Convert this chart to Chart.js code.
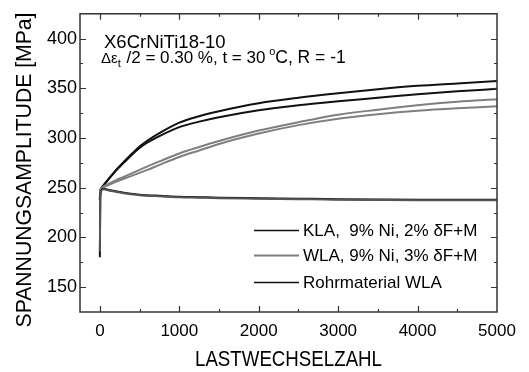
<!DOCTYPE html>
<html>
<head>
<meta charset="utf-8">
<script src="https://cdn.jsdelivr.net/npm/chart.js@4.4.0/dist/chart.umd.min.js"></script>
<style>
  html, body { margin: 0; padding: 0; background: #fff; }
  #wrap { width: 529px; height: 372px; }
</style>
</head>
<body>
<div id="wrap"><canvas id="cyclicChart"></canvas></div>
<script>
// load cycles (x) shared by every curve
const cycles = [0, 5, 10, 25, 50, 100, 200, 300, 400, 500, 600, 750, 1000, 1250, 1500, 2000, 2500, 3000, 3500, 4000, 4500, 5000];

// stress amplitude in MPa
const klaA  = [238, 246, 248.5, 250.5, 253, 258, 267.5, 276, 284, 291.5, 297.5, 305, 315.5, 322, 327, 335, 340.5, 345, 349, 352.5, 355, 357.5];
const klaB  = [238, 246, 248, 250, 252.5, 257.5, 267, 275, 283, 290, 295.5, 302, 311, 316.5, 321, 328, 333, 337, 340.5, 344, 347, 349.5];
const wlaA  = [240, 246, 248.5, 250, 251.5, 253.5, 257.5, 261, 264.5, 268, 271.5, 276.5, 284.5, 291, 297, 307.5, 316, 323.5, 328.5, 333, 336.5, 339];
const wlaB  = [240, 246, 248, 249, 250.5, 252.5, 256, 259, 262, 265, 268, 273, 281, 287.5, 294, 304.5, 313, 319.5, 324, 327.5, 330, 332];
const rohrA = [180, 238, 245, 248.5, 249, 248, 246.5, 245, 244, 243, 242.5, 242, 241, 240.5, 240, 239.5, 239, 238.5, 238.2, 238, 238, 238];
const rohrB = [186, 236, 244, 247.5, 248.5, 247.5, 246, 244.5, 243.5, 242.5, 242, 241.5, 240.5, 240, 239.5, 239, 238.5, 238, 237.7, 237.5, 237.5, 237.5];

const xTicks = [0, 1000, 2000, 3000, 4000, 5000];
const yTicks = [150, 200, 250, 300, 350, 400];

const legendNames = ['KLA,  9% Ni, 2% \u03B4F+M', 'WLA, 9% Ni, 3% \u03B4F+M', 'Rohrmaterial WLA'];
const BLACK = '#111111';
const GREY = '#7f7f7f';
const FONT = '"Liberation Sans", Arial, Helvetica, sans-serif';

function toPoints(values) {
    return values.map((v, i) => ({ x: cycles[i], y: v }));
}

function curve(values, color) {
    return {
        data: toPoints(values),
        borderColor: color,
        borderWidth: 2,
        pointRadius: 0,
        fill: false,
        cubicInterpolationMode: 'monotone'
    };
}

// box with inward ticks on all four sides
const framePlugin = {
    id: 'frame',
    afterDatasetsDraw(chart) {
        const { ctx, chartArea: a, scales: { x, y } } = chart;
        ctx.save();
        ctx.strokeStyle = '#333';
        ctx.lineWidth = 1.5;
        ctx.strokeRect(a.left, a.top, a.right - a.left, a.bottom - a.top);

        ctx.lineWidth = 1.2;
        ctx.beginPath();
        for (let v = Math.ceil(x.min / 500) * 500; v < x.max; v += 500) {
            const px = Math.round(x.getPixelForValue(v)) + 0.5;
            const len = v % 1000 === 0 ? 6 : 3;
            ctx.moveTo(px, a.bottom); ctx.lineTo(px, a.bottom - len);
            ctx.moveTo(px, a.top); ctx.lineTo(px, a.top + len);
        }
        for (let v = Math.ceil(y.min / 25) * 25; v < y.max; v += 25) {
            if (v <= y.min) continue;
            const py = Math.round(y.getPixelForValue(v)) + 0.5;
            const len = v % 50 === 0 ? 6 : 3;
            ctx.moveTo(a.left, py); ctx.lineTo(a.left + len, py);
            ctx.moveTo(a.right, py); ctx.lineTo(a.right - len, py);
        }
        ctx.stroke();
        ctx.restore();
    }
};

// axis titles, condition text and the legend inside the plot
const labelPlugin = {
    id: 'labels',
    afterDraw(chart) {
        const { ctx, chartArea: a } = chart;
        ctx.save();
        ctx.fillStyle = '#000';

        // axis titles
        ctx.font = '22px ' + FONT;
        ctx.textAlign = 'center';
        ctx.textBaseline = 'middle';
        ctx.fillText('LASTWECHSELZAHL', (a.left + a.right) / 2, 360, 187);
        ctx.save();
        ctx.translate(25, 170);
        ctx.rotate(-Math.PI / 2);
        ctx.fillText('SPANNUNGSAMPLITUDE [MPa]', 0, 0, 315);
        ctx.restore();

        // material and test conditions
        ctx.textAlign = 'left';
        ctx.textBaseline = 'alphabetic';
        ctx.font = '18.5px ' + FONT;
        ctx.fillText('X6CrNiTi18-10', 104, 48);

        let cx = 101;
        const base = 63;
        ctx.font = '15px ' + FONT;
        ctx.fillText('\u0394\u03B5', cx, base);
        cx += ctx.measureText('\u0394\u03B5').width;
        ctx.font = '11px ' + FONT;
        ctx.fillText('t', cx, base + 4);
        cx += ctx.measureText('t').width + 1;
        ctx.font = '17px ' + FONT;
        const mid = ' /2 = 0.30 %, t = 30 ';
        ctx.fillText(mid, cx, base);
        cx += ctx.measureText(mid).width;
        ctx.font = '11px ' + FONT;
        ctx.fillText('o', cx - 1, base - 8);
        cx += ctx.measureText('o').width - 1;
        ctx.font = '17.5px ' + FONT;
        ctx.fillText('C, R = -1', cx, base);

        // legend
        const rows = [230, 255, 282];
        ctx.textBaseline = 'middle';
        ctx.font = '17px ' + FONT;
        legendEntries.forEach((item, i) => {
            ctx.strokeStyle = item.color;
            ctx.lineWidth = item.width;
            ctx.beginPath();
            ctx.moveTo(254, rows[i] + 0.5);
            ctx.lineTo(299, rows[i] + 0.5);
            ctx.stroke();
            ctx.fillText(item.label, 303, rows[i] + 1);
        });
        ctx.restore();
    }
};

const legendEntries = [
    { label: legendNames[0], color: BLACK, width: 1.5 },
    { label: legendNames[1], color: GREY, width: 2 },
    { label: legendNames[2], color: BLACK, width: 1.5 }
];

document.addEventListener('DOMContentLoaded', function() {
    const ctx = document.getElementById('cyclicChart').getContext('2d');

    new Chart(ctx, {
        type: 'line',
        data: {
            datasets: [
                curve(rohrB, '#555555'),
                curve(rohrA, BLACK),
                curve(wlaA, GREY),
                curve(wlaB, GREY),
                curve(klaA, BLACK),
                curve(klaB, BLACK)
            ]
        },
        options: {
            responsive: true,
            maintainAspectRatio: false,
            animation: false,
            layout: {
                padding: { left: 0, top: 8, right: 32, bottom: 0 }
            },
            plugins: {
                legend: { display: false },
                tooltip: { enabled: false }
            },
            scales: {
                x: {
                    type: 'linear',
                    min: -250,
                    max: 5000,
                    afterBuildTicks: scale => { scale.ticks = xTicks.map(v => ({ value: v })); },
                    afterFit: scale => { scale.height = 60; },
                    grid: { display: false, drawTicks: false },
                    border: { display: false },
                    ticks: {
                        padding: 9,
                        color: '#000',
                        maxRotation: 0,
                        callback: v => String(v),
                        font: { family: FONT, size: 17 }
                    }
                },
                y: {
                    min: 125,
                    max: 425,
                    afterBuildTicks: scale => { scale.ticks = yTicks.map(v => ({ value: v })); },
                    afterFit: scale => { scale.width = 80; },
                    grid: { display: false, drawTicks: false },
                    border: { display: false },
                    ticks: {
                        padding: 3,
                        color: '#000',
                        callback: v => String(v),
                        font: { family: FONT, size: 18 }
                    }
                }
            }
        },
        plugins: [framePlugin, labelPlugin]
    });
});
</script>
</body>
</html>
